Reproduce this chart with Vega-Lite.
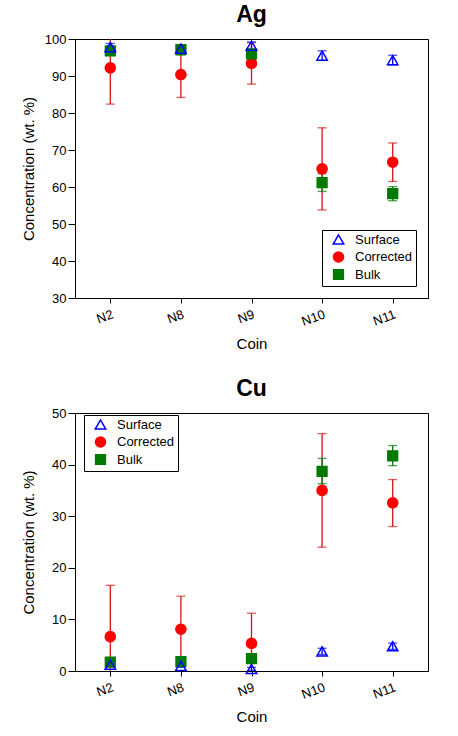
{
  "$schema": "https://vega.github.io/schema/vega-lite/v6.json",
  "padding": {"left": 20, "top": 3, "right": 5, "bottom": 5},
  "config": {
    "font": "Liberation Sans",
    "view": {"stroke": "black", "strokeWidth": 1},
    "axis": {"grid": false, "domainColor": "black", "tickColor": "black", "labelColor": "black", "titleColor": "black", "labelFontSize": 13, "titleFontSize": 15, "titleFontWeight": "normal", "labelOverlap": false},
    "axisX": {"tickSize": 5, "labelPadding": 5, "titlePadding": 8, "labelAngle": -20},
    "axisY": {"tickSize": 7, "labelPadding": 2, "titlePadding": 8},
    "title": {"fontSize": 23, "fontWeight": "bold", "color": "black", "offset": 6},
    "legend": {"strokeColor": "black", "fillColor": "white", "padding": 3, "rowPadding": 0.5, "labelFontSize": 13, "labelColor": "black", "symbolStrokeWidth": 1.5, "cornerRadius": 0, "labelOffset": 10, "symbolOffset": 7}
  },
  "datasets": {
    "conc": [
      {"panel": "Ag", "coin": "N2", "series": "Corrected", "value": 92.2, "lo": 82.4, "hi": 102.0},
      {"panel": "Ag", "coin": "N8", "series": "Corrected", "value": 90.4, "lo": 84.2, "hi": 96.6},
      {"panel": "Ag", "coin": "N9", "series": "Corrected", "value": 93.4, "lo": 87.8, "hi": 99.0},
      {"panel": "Ag", "coin": "N10", "series": "Corrected", "value": 64.9, "lo": 53.8, "hi": 76.0},
      {"panel": "Ag", "coin": "N11", "series": "Corrected", "value": 66.7, "lo": 61.5, "hi": 71.9},
      {"panel": "Ag", "coin": "N2", "series": "Bulk", "value": 96.8, "lo": 96.0, "hi": 97.6},
      {"panel": "Ag", "coin": "N8", "series": "Bulk", "value": 97.1, "lo": 95.7, "hi": 98.5},
      {"panel": "Ag", "coin": "N9", "series": "Bulk", "value": 96.0, "lo": 95.0, "hi": 97.0},
      {"panel": "Ag", "coin": "N10", "series": "Bulk", "value": 61.2, "lo": 58.8, "hi": 63.6},
      {"panel": "Ag", "coin": "N11", "series": "Bulk", "value": 58.2, "lo": 56.3, "hi": 60.1},
      {"panel": "Ag", "coin": "N2", "series": "Surface", "value": 97.8, "lo": 96.8, "hi": 98.8},
      {"panel": "Ag", "coin": "N8", "series": "Surface", "value": 97.4, "lo": 96.4, "hi": 98.4},
      {"panel": "Ag", "coin": "N9", "series": "Surface", "value": 98.2, "lo": 97.2, "hi": 99.2},
      {"panel": "Ag", "coin": "N10", "series": "Surface", "value": 95.5, "lo": 94.2, "hi": 96.8},
      {"panel": "Ag", "coin": "N11", "series": "Surface", "value": 94.3, "lo": 93.0, "hi": 95.6},
      {"panel": "Cu", "coin": "N2", "series": "Corrected", "value": 6.65, "lo": -3.3, "hi": 16.6},
      {"panel": "Cu", "coin": "N8", "series": "Corrected", "value": 8.1, "lo": 1.7, "hi": 14.5},
      {"panel": "Cu", "coin": "N9", "series": "Corrected", "value": 5.35, "lo": -0.5, "hi": 11.2},
      {"panel": "Cu", "coin": "N10", "series": "Corrected", "value": 35.0, "lo": 24.0, "hi": 46.0},
      {"panel": "Cu", "coin": "N11", "series": "Corrected", "value": 32.6, "lo": 28.0, "hi": 37.1},
      {"panel": "Cu", "coin": "N2", "series": "Bulk", "value": 1.7, "lo": 1.4, "hi": 2.0},
      {"panel": "Cu", "coin": "N8", "series": "Bulk", "value": 1.8, "lo": 1.5, "hi": 2.1},
      {"panel": "Cu", "coin": "N9", "series": "Bulk", "value": 2.4, "lo": 2.0, "hi": 2.8},
      {"panel": "Cu", "coin": "N10", "series": "Bulk", "value": 38.7, "lo": 36.3, "hi": 41.2},
      {"panel": "Cu", "coin": "N11", "series": "Bulk", "value": 41.7, "lo": 39.8, "hi": 43.7},
      {"panel": "Cu", "coin": "N2", "series": "Surface", "value": 1.2, "lo": 0.9, "hi": 1.5},
      {"panel": "Cu", "coin": "N8", "series": "Surface", "value": 1.0, "lo": 0.7, "hi": 1.3},
      {"panel": "Cu", "coin": "N9", "series": "Surface", "value": 0.4, "lo": 0.1, "hi": 0.7},
      {"panel": "Cu", "coin": "N10", "series": "Surface", "value": 3.8, "lo": 3.2, "hi": 4.4},
      {"panel": "Cu", "coin": "N11", "series": "Surface", "value": 4.8, "lo": 4.2, "hi": 5.4}
    ]
  },
  "data": {"name": "conc"},
  "resolve": {"scale": {"y": "independent"}, "legend": {"fill": "independent", "stroke": "independent", "shape": "independent", "size": "independent"}},
  "spacing": 25,
  "vconcat": [
    {
      "title": "Ag",
      "width": 353,
      "height": 259,
      "transform": [{"filter": "datum.panel === 'Ag'"}],
      "encoding": {
        "x": {"field": "coin", "type": "nominal", "sort": ["N2", "N8", "N9", "N10", "N11"], "scale": {"type": "point", "padding": 0.5}, "axis": {"title": "Coin"}}
      },
      "layer": [
        {
          "mark": {"type": "rule", "strokeWidth": 1.3, "clip": true},
          "encoding": {
            "y": {"field": "lo", "type": "quantitative", "scale": {"domain": [30, 100], "nice": false}, "axis": {"title": "Concentration (wt. %)", "values": [30, 40, 50, 60, 70, 80, 90, 100], "labelOverlap": false}},
            "y2": {"field": "hi"},
            "color": {"field": "series", "type": "nominal", "scale": {"domain": ["Surface", "Corrected", "Bulk"], "range": ["#0000ff", "#d81515", "#007a00"]}, "legend": null}
          }
        },
        {
          "mark": {"type": "tick", "size": 9, "thickness": 1.3, "clip": true},
          "encoding": {
            "y": {"field": "lo", "type": "quantitative", "axis": {"title": "Concentration (wt. %)", "values": [30, 40, 50, 60, 70, 80, 90, 100], "labelOverlap": false}},
            "color": {"field": "series", "type": "nominal", "legend": null}
          }
        },
        {
          "mark": {"type": "tick", "size": 9, "thickness": 1.3, "clip": true},
          "encoding": {
            "y": {"field": "hi", "type": "quantitative", "axis": {"title": "Concentration (wt. %)", "values": [30, 40, 50, 60, 70, 80, 90, 100], "labelOverlap": false}},
            "color": {"field": "series", "type": "nominal", "legend": null}
          }
        },
        {
          "mark": {"type": "point", "strokeWidth": 1.5, "opacity": 1},
          "encoding": {
            "y": {"field": "value", "type": "quantitative", "axis": {"title": "Concentration (wt. %)", "values": [30, 40, 50, 60, 70, 80, 90, 100], "labelOverlap": false}},
            "shape": {"field": "series", "type": "nominal", "scale": {"domain": ["Surface", "Corrected", "Bulk"], "range": ["triangle-up", "circle", "square"]}, "legend": {"title": null, "orient": "bottom-right", "offset": 12}},
            "size": {"field": "series", "type": "nominal", "scale": {"domain": ["Surface", "Corrected", "Bulk"], "range": [110, 95, 70]}, "legend": {"title": null, "orient": "bottom-right", "offset": 12}},
            "fill": {"field": "series", "type": "nominal", "scale": {"domain": ["Surface", "Corrected", "Bulk"], "range": ["transparent", "#ff0000", "#007a00"]}, "legend": {"title": null, "orient": "bottom-right", "offset": 12}},
            "stroke": {"field": "series", "type": "nominal", "scale": {"domain": ["Surface", "Corrected", "Bulk"], "range": ["#0000ff", "#ff0000", "#007a00"]}, "legend": {"title": null, "orient": "bottom-right", "offset": 12}}
          }
        }
      ]
    },
    {
      "title": "Cu",
      "width": 353,
      "height": 258,
      "transform": [{"filter": "datum.panel === 'Cu'"}],
      "encoding": {
        "x": {"field": "coin", "type": "nominal", "sort": ["N2", "N8", "N9", "N10", "N11"], "scale": {"type": "point", "padding": 0.5}, "axis": {"title": "Coin"}}
      },
      "layer": [
        {
          "mark": {"type": "rule", "strokeWidth": 1.3, "clip": true},
          "encoding": {
            "y": {"field": "lo", "type": "quantitative", "scale": {"domain": [0, 50], "nice": false}, "axis": {"title": "Concentration (wt. %)", "values": [0, 10, 20, 30, 40, 50], "titlePadding": 15}},
            "y2": {"field": "hi"},
            "color": {"field": "series", "type": "nominal", "scale": {"domain": ["Surface", "Corrected", "Bulk"], "range": ["#0000ff", "#d81515", "#007a00"]}, "legend": null}
          }
        },
        {
          "mark": {"type": "tick", "size": 9, "thickness": 1.3, "clip": true},
          "encoding": {
            "y": {"field": "lo", "type": "quantitative", "axis": {"title": "Concentration (wt. %)", "values": [0, 10, 20, 30, 40, 50], "titlePadding": 15}},
            "color": {"field": "series", "type": "nominal", "legend": null}
          }
        },
        {
          "mark": {"type": "tick", "size": 9, "thickness": 1.3, "clip": true},
          "encoding": {
            "y": {"field": "hi", "type": "quantitative", "axis": {"title": "Concentration (wt. %)", "values": [0, 10, 20, 30, 40, 50], "titlePadding": 15}},
            "color": {"field": "series", "type": "nominal", "legend": null}
          }
        },
        {
          "mark": {"type": "point", "strokeWidth": 1.5, "opacity": 1},
          "encoding": {
            "y": {"field": "value", "type": "quantitative", "axis": {"title": "Concentration (wt. %)", "values": [0, 10, 20, 30, 40, 50], "titlePadding": 15}},
            "shape": {"field": "series", "type": "nominal", "scale": {"domain": ["Surface", "Corrected", "Bulk"], "range": ["triangle-up", "circle", "square"]}, "legend": {"title": null, "orient": "none", "legendX": 9, "legendY": 2}},
            "size": {"field": "series", "type": "nominal", "scale": {"domain": ["Surface", "Corrected", "Bulk"], "range": [110, 95, 70]}, "legend": {"title": null, "orient": "none", "legendX": 9, "legendY": 2}},
            "fill": {"field": "series", "type": "nominal", "scale": {"domain": ["Surface", "Corrected", "Bulk"], "range": ["transparent", "#ff0000", "#007a00"]}, "legend": {"title": null, "orient": "none", "legendX": 9, "legendY": 2}},
            "stroke": {"field": "series", "type": "nominal", "scale": {"domain": ["Surface", "Corrected", "Bulk"], "range": ["#0000ff", "#ff0000", "#007a00"]}, "legend": {"title": null, "orient": "none", "legendX": 9, "legendY": 2}}
          }
        }
      ]
    }
  ]
}
